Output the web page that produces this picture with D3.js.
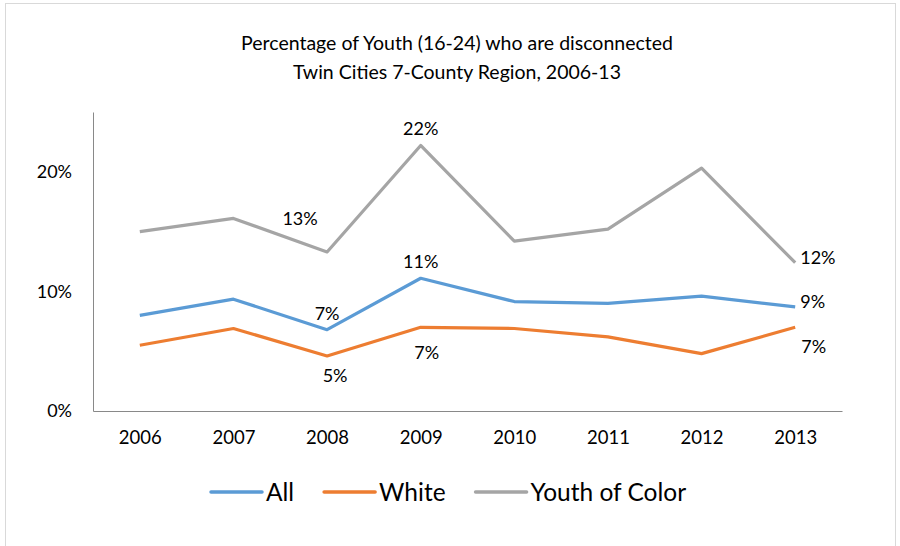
<!DOCTYPE html>
<html lang="en">
<head>
<meta charset="UTF-8">
<title>Disconnected Youth, Twin Cities 2006-13</title>
<script src="https://d3js.org/d3.v7.min.js"></script>
<style>
    body { margin: 0; background: #fff; }
    svg text { font-family: Lato, "Open Sans", sans-serif; fill: #000; }
</style>
</head>
<body>
<svg id="chart"></svg>
<script>
// chart data (percent)
const years = ["2006", "2007", "2008", "2009", "2010", "2011", "2012", "2013"];
const allYouth = [8.0, 9.35, 6.8, 11.1, 9.15, 9.0, 9.6, 8.7];
const whiteYouth = [5.5, 6.9, 4.6, 7.0, 6.9, 6.2, 4.8, 7.0];
const youthOfColor = [15.0, 16.1, 13.3, 22.2, 14.2, 15.2, 20.3, 12.4];
const yTicks = [0, 10, 20];

// which points carry a data label, and where it sits
const labelAll = [null, null, "above", "above", null, null, null, "right"];
const labelWhite = [null, null, "below", "belowFar", null, null, null, "belowRight"];
const labelColor = [null, null, "aboveLeft", "above", null, null, null, "right"];

const series = [
    { name: "All", values: allYouth, labels: labelAll, color: "#5B9BD5" },
    { name: "White", values: whiteYouth, labels: labelWhite, color: "#ED7D31" },
    { name: "Youth of Color", values: youthOfColor, labels: labelColor, color: "#A5A5A5" }
];

const W = 900, H = 546;
const margin = { top: 112, right: 58, bottom: 135, left: 93 };
const width = W - margin.left - margin.right;
const height = H - margin.top - margin.bottom;

const svg = d3.select("#chart").attr("width", W).attr("height", H);

// outer frame
svg.append("rect")
    .attr("x", 5.5).attr("y", 3.5)
    .attr("width", 890).attr("height", 560)
    .attr("fill", "none").attr("stroke", "#d9d9d9");

// title
svg.append("text").attr("x", 457).attr("y", 50)
    .attr("text-anchor", "middle").style("font-size", "19.5px")
    .text("Percentage of Youth (16-24) who are disconnected");
svg.append("text").attr("x", 457).attr("y", 79)
    .attr("text-anchor", "middle").style("font-size", "19.5px")
    .text("Twin Cities 7-County Region, 2006-13");

const g = svg.append("g").attr("transform", `translate(${margin.left},${margin.top})`);

const x = d3.scalePoint().domain(years).range([0, width]).padding(0.5);
const y = d3.scaleLinear().domain([0, 25]).range([height, 0]);

// axes
const yAxis = g.append("g").call(d3.axisLeft(y).tickValues(yTicks).tickSize(0).tickPadding(21).tickFormat(d => d + "%"));
yAxis.select(".domain").attr("stroke", "#898989");
yAxis.selectAll("text").style("font-size", "18px").attr("font-family", null);

const xAxis = g.append("g").attr("transform", `translate(0,${height})`)
    .call(d3.axisBottom(x).tickSize(0).tickPadding(20));
xAxis.select(".domain").attr("stroke", "#898989");
xAxis.selectAll("text").style("font-size", "18.5px").attr("font-family", null);

// lines
const line = d3.line().x((d, i) => x(years[i])).y(d => y(d));
series.forEach(s => {
    g.append("path")
        .datum(s.values)
        .attr("fill", "none")
        .attr("stroke", s.color)
        .attr("stroke-width", 3.2)
        .attr("stroke-linejoin", "round")
        .attr("d", line);
});

// data labels
const offsets = {
    above: { dx: 0, dy: -10, anchor: "middle" },
    below: { dx: 8, dy: 26, anchor: "middle" },
    belowFar: { dx: 6, dy: 32, anchor: "middle" },
    belowRight: { dx: 6, dy: 26, anchor: "start" },
    right: { dx: 5, dy: 1, anchor: "start" },
    aboveLeft: { dx: -27, dy: -27, anchor: "middle" }
};
series.forEach(s => {
    s.values.forEach((v, i) => {
        const pos = s.labels[i];
        if (!pos) return;
        const o = offsets[pos];
        g.append("text")
            .attr("x", x(years[i]) + o.dx)
            .attr("y", y(v) + o.dy)
            .attr("text-anchor", o.anchor)
            .style("font-size", "18px")
            .text(Math.round(v) + "%");
    });
});

// legend
const legend = svg.append("g").attr("transform", "translate(211,492)");
let lx = 0;
series.forEach(s => {
    legend.append("line")
        .attr("x1", lx).attr("x2", lx + 51)
        .attr("stroke", s.color).attr("stroke-width", 3.5).attr("stroke-linecap", "round");
    const t = legend.append("text")
        .attr("x", lx + 55).attr("y", 9)
        .style("font-size", "24.5px")
        .text(s.name);
    lx += 55 + t.node().getComputedTextLength() + 30;
});
</script>
</body>
</html>
